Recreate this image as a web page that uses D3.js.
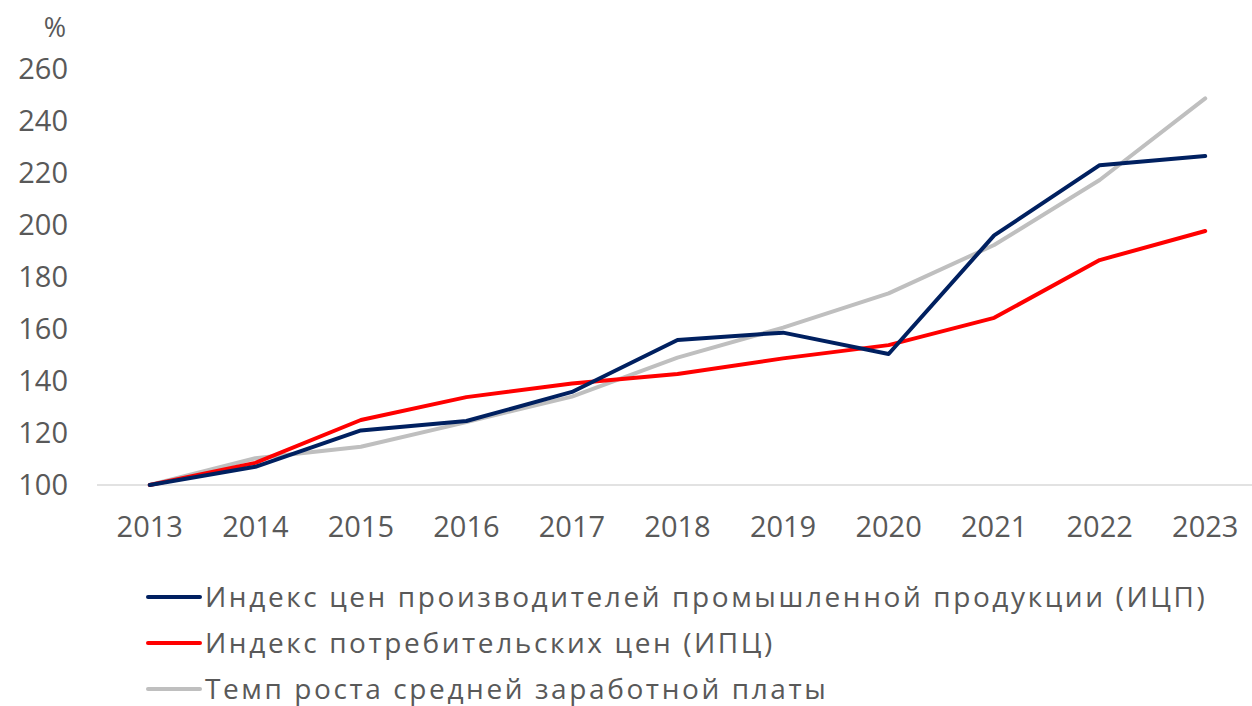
<!DOCTYPE html>
<html>
<head>
<meta charset="utf-8">
<script src="https://cdn.jsdelivr.net/npm/d3@7"></script>
<style>
  body { margin: 0; background: #fff; }
  text { font-family: "Open Sans", sans-serif; fill: #595959; }
</style>
</head>
<body>
<div id="chart"></div>
<script>
(function () {
  // data
  const years = ['2013', '2014', '2015', '2016', '2017', '2018', '2019', '2020', '2021', '2022', '2023'];
  const ppi = [100, 107, 121, 124.6, 135.8, 155.8, 158.6, 150.4, 196, 223, 226.5];
  const cpi = [100, 108.5, 125, 133.8, 139, 142.7, 148.7, 153.8, 164.3, 186.5, 197.7];
  const wages = [100, 110.3, 114.7, 124.2, 134, 149, 160.5, 173.7, 192.3, 217.3, 248.7];
  const yTicks = [100, 120, 140, 160, 180, 200, 220, 240, 260];
  const seriesNames = [
    'Индекс цен производителей промышленной продукции (ИЦП)',
    'Индекс потребительских цен (ИПЦ)',
    'Темп роста средней заработной платы'
  ];
  const colors = ['#002060', '#ff0000', '#bfbfbf'];

  let width = 1252;
  let height = 706;

  let svg = d3.select('#chart')
    .append('svg')
    .attr('width', width)
    .attr('height', height);

  let x = d3.scaleBand()
    .domain(years)
    .range([97, 1258]);

  let y = d3.scaleLinear()
    .domain([100, 260])
    .range([485, 69]);

  // y labels
  svg.selectAll('.ylab')
    .data(yTicks)
    .enter()
    .append('text')
    .attr('class', 'ylab')
    .attr('x', 68)
    .attr('y', d => y(d))
    .attr('dy', '0.35em')
    .attr('text-anchor', 'end')
    .style('font-size', '29px')
    .text(d => d);

  svg.append('text')
    .attr('x', 66)
    .attr('y', 28)
    .attr('dy', '0.35em')
    .attr('text-anchor', 'end')
    .style('font-size', '27px')
    .text('%');

  // x axis line
  svg.append('line')
    .attr('x1', x.range()[0])
    .attr('x2', x.range()[1])
    .attr('y1', y(100))
    .attr('y2', y(100))
    .style('stroke', '#d9d9d9')
    .style('stroke-width', 1.5);

  svg.selectAll('.xlab')
    .data(years)
    .enter()
    .append('text')
    .attr('class', 'xlab')
    .attr('x', d => x(d) + x.bandwidth() / 2)
    .attr('y', 527)
    .attr('dy', '0.35em')
    .attr('text-anchor', 'middle')
    .style('font-size', '29px')
    .text(d => d);

  let line = d3.line()
    .x((d, i) => x(years[i]) + x.bandwidth() / 2)
    .y(d => y(d));

  // draw order: wages first, then cpi, then ppi on top
  let series = [ppi, cpi, wages];
  [2, 1, 0].forEach(i => {
    svg.append('path')
      .datum(series[i])
      .attr('d', line)
      .style('fill', 'none')
      .style('stroke', colors[i])
      .style('stroke-width', 4)
      .style('stroke-linejoin', 'round')
      .style('stroke-linecap', 'round');
  });

  // legend
  let legend = svg.selectAll('.legend')
    .data(seriesNames)
    .enter()
    .append('g')
    .attr('class', 'legend')
    .attr('transform', (d, i) => 'translate(148,' + (597 + i * 46) + ')');

  legend.append('line')
    .attr('x1', 0)
    .attr('x2', 52)
    .style('stroke', (d, i) => colors[i])
    .style('stroke-width', 4)
    .style('stroke-linecap', 'round');

  legend.append('text')
    .attr('x', 57)
    .attr('dy', '0.35em')
    .style('font-size', '28px')
    .style('letter-spacing', '2.6px')
    .text(d => d);
})();
</script>
</body>
</html>
